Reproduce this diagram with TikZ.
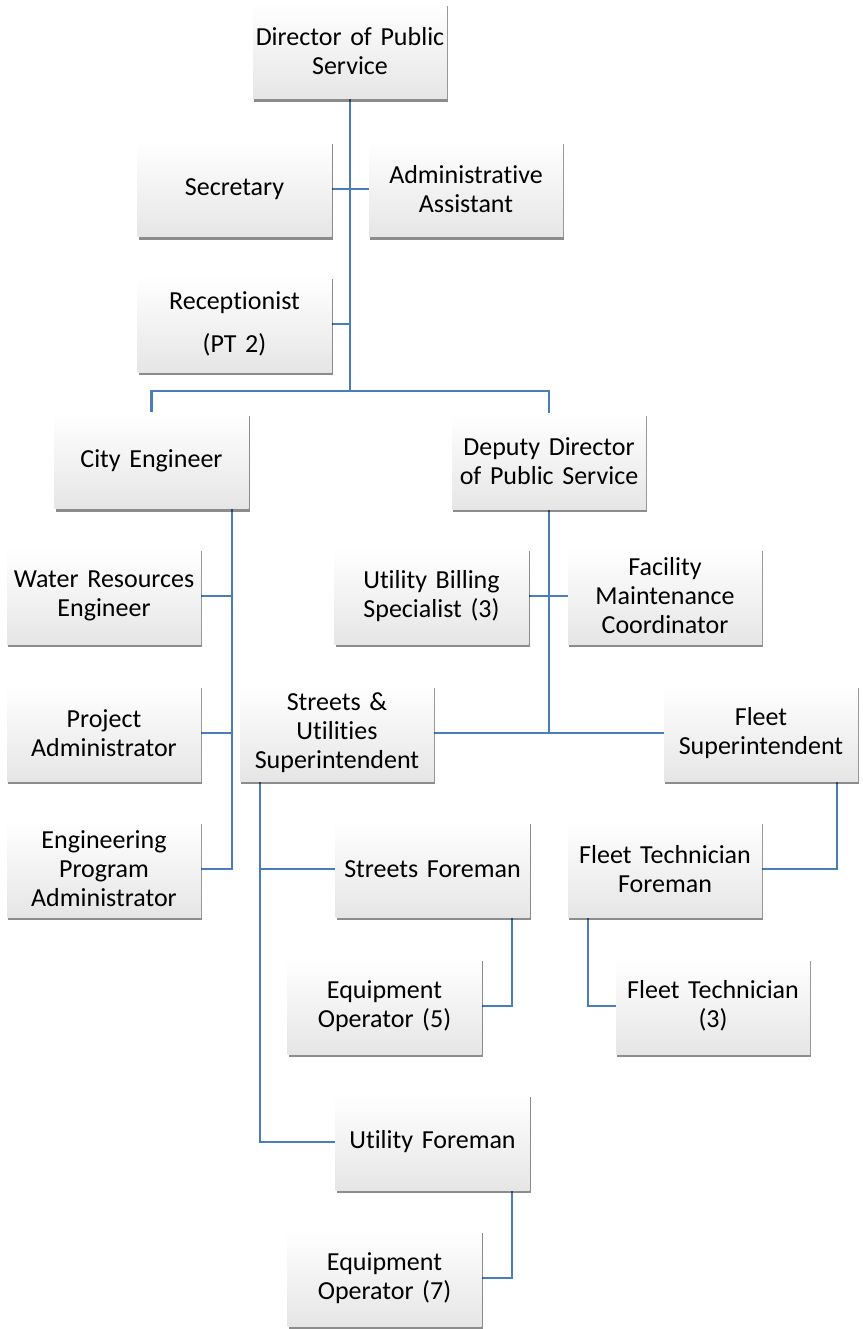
\documentclass[tikz,border=0pt]{standalone}
\usepackage{fontspec}
\setmainfont{Carlito}[Ligatures=NoCommon, WordSpace=0.85]
\usetikzlibrary{shadows,backgrounds}
\definecolor{linkblue}{HTML}{4A7EBB}
\begin{document}
\begin{tikzpicture}[x=1pt,y=-1pt,
  box/.style={minimum width=194pt, minimum height=96pt, text width=190pt,
    align=center, inner sep=0pt, top color=white, bottom color=black!10,
    font=\fontsize{26}{29}\selectfont,
    drop shadow={shadow xshift=1pt, shadow yshift=-3pt, fill=black, opacity=0.45}},
  link/.style={draw=linkblue, line width=2.2pt}]
\useasboundingbox (0,0) rectangle (862,1329);

% positions
\node[box] (dir) at (350,51) {Director of Public\\Service};
\node[box] (sec) at (234.5,189) {Secretary};
\node[box] (adm) at (466,189) {Administrative\\Assistant};
\node[box] (rec) at (234.5,324) {Receptionist\\[14pt](PT 2)};
\node[box] (ce) at (151.5,460.5) {City Engineer};
\node[box] (dd) at (549,461) {Deputy Director\\of Public Service};
\node[box] (wre) at (104,596) {Water Resources\\Engineer};
\node[box] (ubs) at (431.5,596) {Utility Billing\\Specialist (3)};
\node[box] (fmc) at (665,596) {Facility\\Maintenance\\Coordinator};
\node[box] (pa) at (104,733) {Project\\Administrator};
\node[box] (sus) at (337,733) {Streets \&\\Utilities\\Superintendent};
\node[box] (fs) at (761,733) {Fleet\\Superintendent};
\node[box] (epa) at (104,869) {Engineering\\Program\\Administrator};
\node[box] (sf) at (432.5,869) {Streets Foreman};
\node[box] (ftf) at (665,869) {Fleet Technician\\Foreman};
\node[box] (eo5) at (384.5,1006) {Equipment\\Operator (5)};
\node[box] (ft3) at (713,1006) {Fleet Technician\\(3)};
\node[box] (uf) at (432.5,1142) {Utility Foreman};
\node[box] (eo7) at (384.5,1278) {Equipment\\Operator (7)};

% trunk points
\coordinate (bus) at (350,391);
\coordinate (ceb) at ([xshift=-17pt]ce.south east);
\coordinate (susb) at ([xshift=20pt]sus.south west);
\coordinate (sfb) at ([xshift=-18pt]sf.south east);
\coordinate (fsb) at ([xshift=-21pt]fs.south east);
\coordinate (ftfb) at ([xshift=20pt]ftf.south west);
\coordinate (ufb) at ([xshift=-18pt]uf.south east);

\begin{pgfonlayer}{background}
  \draw[link] (dir.south) -- (bus);
  \draw[link] (ce.north) |- (bus) -| (dd.north);
  \draw[link] (sec.east) -- (adm.west);
  \draw[link] (rec.east) -- (rec.east -| dir.south);
  % City Engineer
  \draw[link] (ceb) |- (epa.east);
  \draw[link] (wre.east) -- (wre.east -| ceb);
  \draw[link] (pa.east) -- (pa.east -| ceb);
  % Deputy Director
  \draw[link] (dd.south) -- (dd.south |- sus.east);
  \draw[link] (ubs.east) -- (fmc.west);
  \draw[link] (sus.east) -- (fs.west);
  % Streets & Utilities
  \draw[link] (susb) |- (uf.west);
  \draw[link] (sf.west) -- (sf.west -| susb);
  \draw[link] (sfb) |- (eo5.east);
  \draw[link] (ufb) |- (eo7.east);
  % Fleet
  \draw[link] (fsb) |- (ftf.east);
  \draw[link] (ftfb) |- (ft3.west);
\end{pgfonlayer}
\end{tikzpicture}
\end{document}
